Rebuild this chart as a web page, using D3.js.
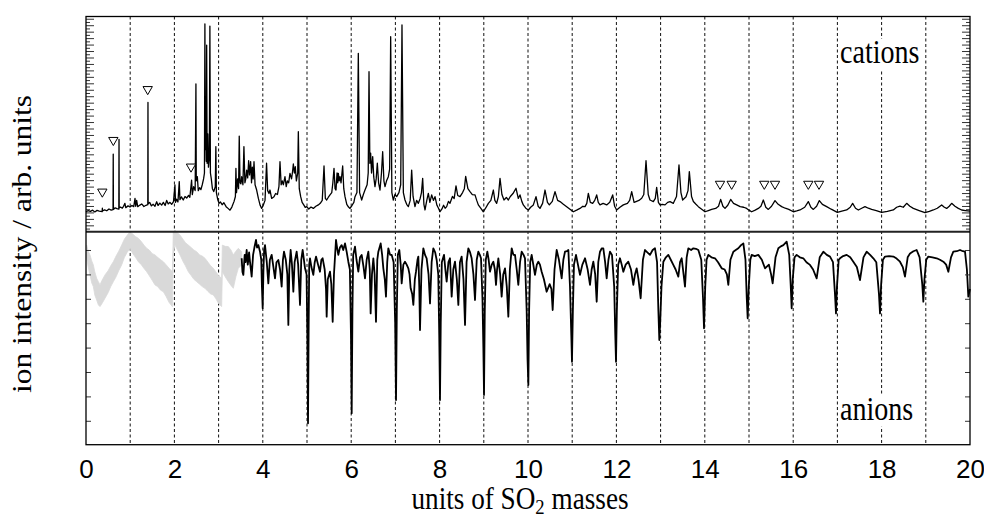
<!DOCTYPE html>
<html><head><meta charset="utf-8">
<script src="https://cdn.jsdelivr.net/npm/d3@7"></script>
<style>body{margin:0;background:#fff}svg{display:block}</style>
</head><body>
<svg id="chart" width="984" height="517"></svg>
<script>
// ---- data: mass axis in units of SO2 masses ----
const massTicks = [0, 2, 4, 6, 8, 10, 12, 14, 16, 18, 20];
const gridMasses = [1, 2, 3, 4, 5, 6, 7, 8, 9, 10, 11, 12, 13, 14, 15, 16, 17, 18, 19];

// cation spectrum: [mass, intensity]
const cationTrace = [
[0.00,10.2],[0.05,10.8],[0.10,10.4],[0.15,11.0],[0.20,10.1],[0.25,10.9],[0.30,10.5],[0.366,10.3],[0.370,12.0],[0.375,10.6],
[0.42,11.2],[0.47,10.7],[0.52,11.6],[0.57,11.0],[0.612,11.3],[0.616,39.7],[0.620,11.4],[0.66,12.2],[0.70,11.8],[0.743,11.6],
[0.747,47.2],[0.751,12.1],[0.78,12.6],[0.82,12.0],[0.85,13.0],[0.88,14.5],[0.90,12.3],[0.95,13.2],[0.995,12.6],[1.04,13.4],
[1.08,12.8],[1.109,17.0],[1.125,13.0],[1.146,16.0],[1.17,12.8],[1.22,13.6],[1.26,14.2],[1.31,12.9],[1.357,13.5],[1.398,13.8],
[1.402,66.1],[1.406,14.2],[1.44,15.0],[1.48,13.2],[1.52,14.0],[1.56,13.0],[1.599,15.3],[1.63,13.4],[1.67,14.6],[1.712,13.6],
[1.75,15.0],[1.79,13.4],[1.825,16.0],[1.86,14.2],[1.90,15.0],[1.938,14.0],[1.98,15.4],[2.012,23.9],[2.025,15.0],[2.05,16.6],
[2.08,15.2],[2.110,25.6],[2.125,16.4],[2.16,17.8],[2.20,16.2],[2.24,18.0],[2.278,17.2],[2.32,18.6],[2.35,17.6],[2.389,26.4],
[2.405,19.0],[2.436,23.0],[2.470,21.0],[2.487,75.5],[2.495,26.0],[2.519,28.1],[2.54,21.0],[2.57,22.5],[2.60,21.5],[2.63,24.0],
[2.66,27.0],[2.680,30.0],[2.690,106.2],[2.700,42.0],[2.712,50.3],[2.720,36.0],[2.730,95.4],[2.740,35.0],[2.755,50.0],[2.770,33.0],
[2.790,38.0],[2.803,105.1],[2.815,30.0],[2.835,27.0],[2.86,22.0],[2.89,20.5],[2.925,23.0],[2.938,43.5],[2.950,20.0],[2.98,16.5],
[3.01,14.5],[3.04,15.2],[3.08,13.8],[3.12,14.8],[3.17,12.8],[3.22,11.8],[3.258,11.0],[3.30,12.6],[3.35,15.5],[3.380,18.0],
[3.392,32.4],[3.405,20.0],[3.431,27.0],[3.452,22.0],[3.467,48.9],[3.485,25.0],[3.505,24.5],[3.522,28.1],[3.550,24.0],[3.573,43.5],
[3.595,25.0],[3.615,27.0],[3.635,31.5],[3.658,27.5],[3.680,36.3],[3.700,29.0],[3.725,35.8],[3.745,25.0],[3.763,33.0],[3.782,27.0],
[3.801,35.8],[3.825,24.0],[3.861,21.3],[3.90,17.0],[3.94,13.5],[3.974,11.9],[4.01,13.5],[4.05,16.0],[4.085,35.0],[4.110,21.0],
[4.140,19.5],[4.163,21.3],[4.20,17.0],[4.253,17.9],[4.29,19.5],[4.33,19.0],[4.365,23.0],[4.389,35.8],[4.415,24.0],[4.44,26.0],
[4.465,24.0],[4.502,28.1],[4.530,23.0],[4.555,26.0],[4.585,25.0],[4.615,29.8],[4.650,27.0],[4.675,31.0],[4.691,34.6],[4.715,30.0],
[4.735,33.2],[4.760,26.0],[4.790,30.0],[4.804,51.1],[4.825,22.0],[4.857,17.9],[4.89,15.0],[4.93,13.6],[4.96,12.4],[4.992,12.8],
[5.04,11.6],[5.09,12.6],[5.143,11.9],[5.20,13.0],[5.256,13.7],[5.30,14.5],[5.345,16.0],[5.385,33.6],[5.415,17.0],[5.445,16.2],
[5.480,17.5],[5.520,18.8],[5.560,20.0],[5.585,25.0],[5.611,32.4],[5.635,22.0],[5.656,21.3],[5.680,30.0],[5.695,25.0],[5.709,29.8],
[5.728,26.0],[5.747,28.1],[5.770,25.0],[5.807,33.6],[5.832,22.0],[5.860,17.9],[5.90,14.0],[5.94,12.6],[5.973,11.9],[6.02,13.5],
[6.06,15.0],[6.086,17.9],[6.130,20.0],[6.161,91.2],[6.190,20.0],[6.237,16.2],[6.275,19.0],[6.312,21.3],[6.360,24.0],[6.385,30.0],
[6.403,81.8],[6.422,35.0],[6.440,40.1],[6.460,30.0],[6.486,38.4],[6.510,28.0],[6.538,23.0],[6.565,27.0],[6.591,35.0],[6.620,25.0],
[6.652,21.3],[6.685,30.0],[6.712,40.9],[6.740,26.0],[6.765,23.0],[6.800,26.0],[6.840,28.1],[6.870,32.0],[6.893,99.7],[6.920,20.0],
[6.953,16.2],[6.990,19.0],[7.029,17.9],[7.080,20.0],[7.120,24.0],[7.149,105.7],[7.180,20.0],[7.217,16.2],[7.255,14.0],[7.293,12.8],
[7.335,16.0],[7.368,31.5],[7.400,18.0],[7.443,12.8],[7.480,16.0],[7.519,14.5],[7.560,17.0],[7.590,20.0],[7.617,27.3],[7.645,14.0],
[7.670,11.1],[7.710,16.0],[7.745,19.6],[7.780,15.0],[7.821,18.8],[7.860,16.0],[7.896,17.9],[7.940,13.5],[7.975,12.0],[8.009,10.2],
[8.050,11.5],[8.090,13.5],[8.125,12.0],[8.160,12.8],[8.200,15.5],[8.235,14.5],[8.290,18.0],[8.330,17.0],[8.371,23.4],[8.410,18.5],
[8.462,17.9],[8.520,20.0],[8.560,22.0],[8.590,28.3],[8.640,22.0],[8.688,20.5],[8.740,19.0],[8.801,18.8],[8.840,16.0],[8.876,13.7],
[8.930,12.0],[8.989,10.2],[9.040,12.0],[9.103,14.5],[9.160,16.0],[9.216,21.3],[9.250,16.0],[9.291,14.5],[9.330,18.0],[9.367,27.3],
[9.410,19.0],[9.457,16.2],[9.510,17.5],[9.555,16.2],[9.600,18.0],[9.660,19.5],[9.729,22.2],[9.780,17.0],[9.819,18.8],[9.860,15.5],
[9.894,13.7],[9.950,12.0],[10.008,11.1],[10.060,12.5],[10.121,13.7],[10.181,17.9],[10.230,13.0],[10.271,11.9],[10.330,14.5],[10.385,21.3],
[10.440,15.0],[10.483,13.7],[10.550,15.5],[10.611,20.5],[10.670,16.0],[10.724,15.4],[10.800,14.0],[10.875,12.8],[10.950,11.5],[11.026,10.2],
[11.100,11.0],[11.176,11.9],[11.240,13.0],[11.290,12.8],[11.330,14.5],[11.365,19.6],[11.410,15.0],[11.463,14.5],[11.510,16.0],[11.554,18.8],
[11.590,15.0],[11.629,13.7],[11.700,14.5],[11.780,13.7],[11.850,15.0],[11.916,18.8],[11.960,13.0],[12.006,11.1],[12.080,12.5],[12.157,13.7],
[12.250,14.5],[12.300,16.0],[12.346,20.5],[12.400,15.0],[12.443,15.4],[12.510,16.0],[12.572,17.1],[12.620,19.0],[12.670,36.3],[12.720,19.0],
[12.760,16.2],[12.836,15.4],[12.880,17.0],[12.911,22.7],[12.950,15.0],[12.986,13.7],[13.040,14.0],[13.100,13.7],[13.160,15.0],[13.213,15.4],
[13.288,14.5],[13.360,18.0],[13.416,34.1],[13.460,20.0],[13.499,16.2],[13.575,17.9],[13.620,21.0],[13.650,30.7],[13.700,18.0],[13.741,15.4],
[13.800,14.0],[13.854,12.8],[13.930,11.5],[14.005,10.2],[14.080,10.8],[14.155,11.4],[14.246,11.9],[14.310,13.0],[14.359,16.5],[14.410,13.0],
[14.457,11.9],[14.520,13.5],[14.585,16.5],[14.650,14.5],[14.721,13.7],[14.800,12.8],[14.880,12.5],[14.947,11.9],[15.000,11.0],[15.060,10.2],
[15.140,11.0],[15.211,11.9],[15.270,13.0],[15.324,16.2],[15.380,12.5],[15.437,11.4],[15.510,13.0],[15.588,15.9],[15.660,14.0],[15.739,12.8],
[15.820,12.0],[15.900,11.4],[16.003,10.2],[16.080,10.6],[16.154,11.1],[16.260,12.5],[16.342,15.4],[16.400,12.5],[16.456,11.4],[16.530,13.0],
[16.591,15.9],[16.660,14.0],[16.757,12.8],[16.860,11.5],[16.998,9.9],[17.100,10.5],[17.210,11.1],[17.290,12.5],[17.345,14.5],[17.410,12.0],
[17.474,11.1],[17.550,12.0],[17.624,12.8],[17.700,12.0],[17.775,11.4],[17.880,10.8],[18.002,9.9],[18.130,10.4],[18.265,11.1],[18.340,12.5],
[18.416,13.1],[18.490,12.5],[18.567,14.5],[18.640,13.0],[18.718,11.9],[18.850,10.8],[18.982,9.7],[19.080,10.4],[19.170,11.1],[19.260,12.0],
[19.359,13.7],[19.420,12.5],[19.472,11.9],[19.530,13.0],[19.585,14.5],[19.660,13.0],[19.736,11.9],[19.811,11.1],[19.900,10.8],[20.000,10.5]
];

// marked cation peaks: [mass, marker height]
const cationMarkers = [
[0.369,20.4],[0.618,46.8],[1.396,72.8],[2.376,33.2],
[14.344,24.4],[14.608,24.4],[15.346,24.4],[15.588,24.4],[16.342,24.4],[16.584,24.4]
];

// anion spectrum (drawn downward): [mass, signal]
const anionTrace = [
[3.522,13.4],[3.540,19.0],[3.560,20.2],[3.590,12.0],[3.610,15.0],[3.635,10.0],[3.660,16.0],[3.690,11.0],[3.710,14.8],[3.730,18.0],
[3.748,20.9],[3.780,12.0],[3.810,9.0],[3.846,5.9],[3.870,9.0],[3.900,8.0],[3.937,10.7],[3.965,14.0],[3.980,25.0],[3.997,33.9],
[4.015,18.0],[4.030,10.0],[4.050,8.0],[4.090,15.0],[4.125,23.7],[4.160,14.0],[4.201,12.0],[4.240,17.0],[4.276,21.6],[4.310,15.0],
[4.351,14.1],[4.390,18.0],[4.427,25.0],[4.455,14.0],[4.480,10.7],[4.520,14.0],[4.555,20.0],[4.578,40.7],[4.600,18.0],[4.630,10.0],
[4.660,16.0],[4.691,27.1],[4.720,15.0],[4.766,10.7],[4.800,16.0],[4.842,32.5],[4.870,14.0],[4.902,10.0],[4.955,17.5],[4.990,20.0],
[5.008,45.0],[5.023,81.0],[5.038,40.0],[5.050,16.0],[5.068,13.4],[5.100,17.0],[5.143,20.2],[5.175,15.0],[5.204,12.7],[5.250,16.0],
[5.294,18.9],[5.325,14.0],[5.354,13.4],[5.400,18.0],[5.430,26.0],[5.445,37.3],[5.470,22.0],[5.520,18.9],[5.550,24.0],[5.581,39.4],
[5.610,20.0],[5.656,5.9],[5.680,9.0],[5.709,12.0],[5.745,9.0],[5.784,8.0],[5.820,10.0],[5.860,7.3],[5.900,11.0],[5.935,14.8],
[5.970,18.0],[5.995,45.0],[6.011,76.9],[6.028,35.0],[6.045,12.0],[6.086,8.6],[6.120,14.0],[6.161,18.9],[6.200,13.0],[6.237,12.0],
[6.280,17.0],[6.312,21.6],[6.350,14.0],[6.388,10.7],[6.420,18.0],[6.440,36.0],[6.470,20.0],[6.501,13.4],[6.530,20.0],[6.561,39.4],
[6.590,14.0],[6.614,10.7],[6.667,7.3],[6.700,12.0],[6.727,17.5],[6.760,22.0],[6.787,29.1],[6.815,15.0],[6.840,9.3],[6.880,12.0],
[6.916,12.0],[6.960,15.0],[6.995,40.0],[7.014,71.5],[7.032,35.0],[7.055,12.0],[7.089,10.0],[7.120,16.0],[7.142,23.7],[7.180,16.0],
[7.217,14.8],[7.255,16.0],[7.293,17.5],[7.320,20.0],[7.345,25.7],[7.380,28.0],[7.406,32.5],[7.440,22.0],[7.466,18.9],[7.500,14.0],
[7.519,12.7],[7.540,25.0],[7.557,42.8],[7.590,18.0],[7.632,9.3],[7.670,12.0],[7.707,13.4],[7.750,20.0],[7.783,31.9],[7.820,15.0],
[7.858,9.3],[7.900,11.0],[7.934,14.1],[7.970,20.0],[7.992,45.0],[8.009,71.5],[8.026,40.0],[8.050,15.0],[8.100,12.0],[8.130,18.0],
[8.160,23.0],[8.200,15.0],[8.235,13.4],[8.273,29.1],[8.310,18.0],[8.348,14.8],[8.390,22.0],[8.424,32.5],[8.460,15.0],[8.499,12.7],
[8.540,22.0],[8.575,40.7],[8.610,15.0],[8.650,9.3],[8.690,11.0],[8.725,13.4],[8.765,20.0],[8.801,30.5],[8.840,14.0],[8.876,10.7],
[8.910,12.0],[8.937,13.4],[8.970,30.0],[8.990,50.0],[9.005,69.4],[9.022,35.0],[9.045,14.0],[9.080,10.7],[9.110,14.0],[9.140,18.9],
[9.180,16.0],[9.216,14.8],[9.250,18.0],[9.276,24.3],[9.300,18.0],[9.329,13.4],[9.370,20.0],[9.404,29.1],[9.440,20.0],[9.480,17.5],
[9.520,25.0],[9.555,37.3],[9.590,18.0],[9.631,9.3],[9.670,12.0],[9.706,12.0],[9.745,18.0],[9.781,24.3],[9.820,15.0],[9.857,10.7],
[9.900,12.0],[9.932,13.4],[9.970,35.0],[9.990,55.0],[10.008,65.3],[10.025,35.0],[10.050,15.0],[10.083,12.0],[10.120,16.0],[10.158,20.2],
[10.200,16.0],[10.234,14.8],[10.270,16.0],[10.309,18.9],[10.360,22.0],[10.422,27.1],[10.490,24.0],[10.530,26.0],[10.558,34.6],[10.600,18.0],
[10.649,10.0],[10.700,14.0],[10.762,21.6],[10.800,14.0],[10.837,10.7],[10.880,10.5],[10.913,10.0],[10.950,25.0],[10.980,45.0],[10.995,55.8],
[11.015,35.0],[11.040,16.0],[11.086,12.0],[11.130,16.0],[11.176,20.2],[11.230,16.0],[11.290,13.4],[11.350,18.0],[11.403,24.3],[11.440,18.0],
[11.478,14.8],[11.520,20.0],[11.554,31.2],[11.590,15.0],[11.629,10.7],[11.670,9.3],[11.704,9.3],[11.745,15.0],[11.780,21.6],[11.820,14.0],
[11.855,10.7],[11.900,12.0],[11.950,25.0],[11.975,45.0],[11.991,55.8],[12.010,35.0],[12.040,16.0],[12.081,13.4],[12.120,16.0],[12.157,18.9],
[12.210,16.0],[12.270,14.8],[12.330,18.0],[12.383,24.3],[12.420,20.0],[12.459,17.5],[12.500,22.0],[12.549,29.8],[12.600,14.0],[12.647,10.0],
[12.700,11.0],[12.760,12.0],[12.820,10.0],[12.873,9.3],[12.920,15.0],[12.950,35.0],[12.971,46.9],[12.990,40.0],[13.020,25.0],[13.062,14.8],
[13.120,13.0],[13.175,12.0],[13.230,14.0],[13.288,16.1],[13.340,18.0],[13.401,20.9],[13.440,15.0],[13.477,13.4],[13.520,20.0],[13.552,25.0],
[13.590,13.0],[13.627,9.3],[13.690,10.0],[13.741,9.3],[13.800,9.5],[13.854,10.0],[13.920,14.0],[13.960,30.0],[13.982,42.1],[14.010,25.0],
[14.040,14.0],[14.080,12.0],[14.150,13.0],[14.231,13.4],[14.300,15.0],[14.382,17.5],[14.450,18.0],[14.500,20.0],[14.532,24.3],[14.580,14.0],
[14.646,10.7],[14.700,10.0],[14.759,9.3],[14.820,8.0],[14.872,7.3],[14.920,14.0],[14.950,30.0],[14.970,38.0],[14.995,25.0],[15.030,14.0],
[15.060,12.0],[15.130,12.5],[15.211,12.0],[15.290,14.0],[15.362,17.5],[15.450,16.0],[15.500,20.0],[15.535,23.7],[15.600,13.0],[15.664,9.3],
[15.720,8.5],[15.777,8.0],[15.852,6.6],[15.910,12.0],[15.945,25.0],[15.965,33.9],[15.990,22.0],[16.030,13.0],[16.078,12.0],[16.150,13.0],
[16.229,13.4],[16.300,15.0],[16.380,16.1],[16.450,18.0],[16.531,21.6],[16.600,13.0],[16.682,10.7],[16.760,12.0],[16.833,12.7],[16.900,15.0],
[16.945,28.0],[16.968,36.0],[16.990,25.0],[17.030,14.0],[17.059,13.4],[17.130,12.5],[17.210,12.0],[17.290,13.0],[17.360,14.8],[17.440,17.0],
[17.511,22.3],[17.590,13.0],[17.662,10.7],[17.740,12.0],[17.813,13.4],[17.880,15.0],[17.940,28.0],[17.964,36.0],[17.990,24.0],[18.030,14.0],
[18.077,12.7],[18.170,12.5],[18.266,12.7],[18.340,13.5],[18.416,14.8],[18.480,17.0],[18.529,20.9],[18.590,13.0],[18.643,11.4],[18.720,10.5],
[18.793,10.0],[18.860,13.0],[18.920,24.0],[18.944,31.2],[18.970,22.0],[19.010,14.0],[19.057,12.7],[19.150,13.0],[19.246,13.4],[19.320,14.0],
[19.397,14.8],[19.460,16.0],[19.510,18.9],[19.570,13.0],[19.623,10.7],[19.700,10.5],[19.774,10.0],[19.840,10.5],[19.887,10.7],[19.930,18.0],
[19.962,29.1],[20.000,26.0]
];

// low-mass anion background (grey band): [mass, upper edge, lower edge]
const anionLowMassBand = [
[0.015,8.0,13.4],[0.05,10.5,17.0],[0.09,12.0,20.2],[0.13,14.5,23.5],[0.166,16.1,25.0],[0.20,19.0,28.5],[0.241,21.6,30.5],[0.28,23.0,32.5],
[0.317,24.3,33.2],[0.36,22.5,32.0],[0.43,20.2,29.8],[0.50,18.5,27.5],[0.56,16.5,25.0],[0.618,14.8,23.0],[0.68,12.5,21.0],[0.74,10.5,18.5],
[0.807,8.0,16.1],[0.87,5.5,13.0],[0.93,4.0,11.0],[0.995,2.5,9.3],[1.06,3.5,11.5],[1.12,4.5,13.0],[1.184,5.2,14.8],[1.25,6.5,16.0],
[1.31,8.0,17.5],[1.373,9.3,18.9],[1.43,10.0,20.5],[1.50,11.5,22.5],[1.561,12.0,24.3],[1.62,13.0,25.0],[1.69,14.0,26.5],[1.75,14.8,27.1],
[1.81,16.0,29.0],[1.88,17.5,31.5],[1.955,18.9,33.2],[1.975,2.5,12.0],[2.014,1.8,8.0],[2.07,3.0,10.0],[2.127,3.9,12.0],[2.19,5.5,14.5],
[2.25,7.0,16.5],[2.315,8.0,18.9],[2.38,9.0,20.5],[2.44,10.0,22.0],[2.504,10.7,23.0],[2.57,12.0,24.0],[2.63,12.5,25.0],[2.692,13.4,25.7],
[2.76,15.0,27.0],[2.82,16.5,28.0],[2.881,17.5,28.4],[2.94,19.0,30.0],[3.00,20.5,32.0],[3.069,21.6,33.2],[3.085,8.0,18.9],[3.15,8.5,21.0],
[3.220,8.6,23.0],[3.28,10.0,24.5],[3.333,12.0,25.7],[3.39,10.5,21.0],[3.446,9.3,17.5],[3.522,10.7,16.1]
];

// ---- layout ----
const L = 86, R = 970, T = 16.5, B = 444.7, MID = 231.7;
const svg = d3.select("#chart");

const x = d3.scaleLinear().domain([0, 20]).range([L, R]);
const yTop = d3.scaleLinear().domain([0, 110]).range([MID, T]);
const yBot = d3.scaleLinear().domain([2.5, 89.8]).range([MID, B]);

const serif = "'Liberation Serif','Times New Roman',serif";
const sans = "'Liberation Sans',Arial,Helvetica,sans-serif";

// dashed guides at every integer mass
svg.append("g").selectAll("line").data(gridMasses).join("line")
  .attr("x1", d => x(d)).attr("x2", d => x(d))
  .attr("y1", T).attr("y2", B)
  .attr("stroke", "#111").attr("stroke-width", 1).attr("stroke-dasharray", "3,2.5");

// panel labels with white backing
function panelLabel(txt, px, py) {
  const g = svg.append("g").attr("transform", `translate(${px},${py}) scale(0.85,1)`);
  const bg = g.append("rect").attr("fill", "#fff");
  const t = g.append("text").attr("font-family", serif).attr("font-size", 33).attr("fill", "#000").text(txt);
  const bb = t.node().getBBox();
  bg.attr("x", bb.x - 1).attr("y", bb.y + 5).attr("width", bb.width + 2).attr("height", bb.height - 6);
}
panelLabel("cations", 840, 63);
panelLabel("anions", 840, 420);

// grey low-mass anion band
svg.append("path").datum(anionLowMassBand)
  .attr("fill", "#d9d9d9").attr("stroke", "#d9d9d9").attr("stroke-width", 0.8)
  .attr("d", d3.area().x(d => x(d[0])).y0(d => yBot(d[1])).y1(d => yBot(d[2])));

// anion trace
svg.append("path").datum(anionTrace)
  .attr("fill", "none").attr("stroke", "#000").attr("stroke-width", 1.8).attr("stroke-linejoin", "round")
  .attr("d", d3.line().x(d => x(d[0])).y(d => yBot(d[1])));

// cation trace
svg.append("path").datum(cationTrace)
  .attr("fill", "none").attr("stroke", "#000").attr("stroke-width", 1.3).attr("stroke-linejoin", "round")
  .attr("d", d3.line().x(d => x(d[0])).y(d => yTop(d[1])));

// open triangle markers
const tri = d3.symbol(d3.symbolTriangle, 38)();
svg.append("g").selectAll("path").data(cationMarkers).join("path")
  .attr("d", tri)
  .attr("transform", d => `translate(${x(d[0])},${yTop(d[1])}) rotate(180)`)
  .attr("fill", "#fff").attr("stroke", "#000").attr("stroke-width", 1);

// panel separator
svg.append("line").attr("x1", L).attr("x2", R).attr("y1", MID).attr("y2", MID)
  .attr("stroke", "#222").attr("stroke-width", 2);

// minor ticks on the cation panel (both sides)
const topTicks = d3.range(1.6, 110, 1.65);
svg.append("g").attr("transform", `translate(${L},0)`)
  .call(d3.axisRight(yTop).tickValues(topTicks).tickFormat("").tickSizeOuter(0).tickSize(6))
  .call(g => g.select(".domain").remove())
  .call(g => g.selectAll(".tick line").attr("stroke", "#333")
     .attr("x2", (d, i) => i % 2 ? 8 : 4));
svg.append("g").attr("transform", `translate(${R},0)`)
  .call(d3.axisLeft(yTop).tickValues(topTicks).tickFormat("").tickSizeOuter(0).tickSize(6))
  .call(g => g.select(".domain").remove())
  .call(g => g.selectAll(".tick line").attr("stroke", "#333")
     .attr("x2", (d, i) => i % 2 ? -8 : -4));

// ticks on the anion panel (both sides)
const botTicks = [10, 20, 30, 40, 50, 60, 70, 80];
svg.append("g").attr("transform", `translate(${L},0)`)
  .call(d3.axisRight(yBot).tickValues(botTicks).tickFormat("").tickSizeOuter(0).tickSize(5))
  .call(g => g.select(".domain").remove())
  .call(g => g.selectAll(".tick line").attr("stroke", "#333"));
svg.append("g").attr("transform", `translate(${R},0)`)
  .call(d3.axisLeft(yBot).tickValues(botTicks).tickFormat("").tickSizeOuter(0).tickSize(5))
  .call(g => g.select(".domain").remove())
  .call(g => g.selectAll(".tick line").attr("stroke", "#333"));

// frame
svg.append("rect").attr("x", L).attr("y", T).attr("width", R - L).attr("height", B - T)
  .attr("fill", "none").attr("stroke", "#000").attr("stroke-width", 1.3);

// mass axis labels
const xAxis = svg.append("g").attr("transform", `translate(0,${B})`)
  .call(d3.axisBottom(x).tickValues(massTicks).tickFormat(d3.format("d")).tickSize(0).tickPadding(0));
xAxis.select(".domain").remove();
xAxis.selectAll("text").attr("font-family", sans).attr("font-size", 26).attr("fill", "#000")
  .attr("dy", null).attr("y", 33);

// axis titles
const xt = svg.append("text").attr("transform", `translate(520,509) scale(0.85,1)`)
  .attr("text-anchor", "middle").attr("font-family", serif).attr("font-size", 32).attr("fill", "#000");
xt.append("tspan").text("units of SO");
xt.append("tspan").attr("font-size", 22).attr("dy", 5).text("2");
xt.append("tspan").attr("dy", -5).text(" masses");

svg.append("text").attr("transform", `translate(31,244) rotate(-90) scale(1,0.85)`)
  .attr("text-anchor", "middle").attr("font-family", serif).attr("font-size", 31.5).attr("fill", "#000")
  .text("ion intensity / arb. units");
</script>
</body></html>
